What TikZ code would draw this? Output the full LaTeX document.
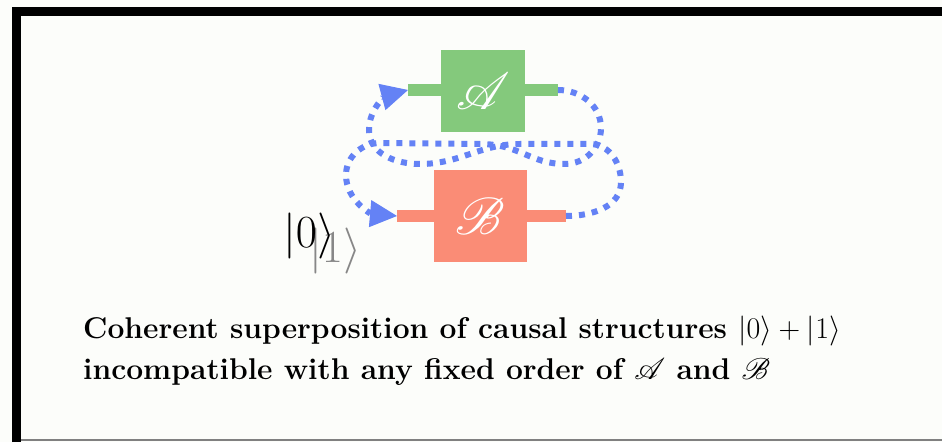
\RequirePackage{fix-cm}
\documentclass[tikz,border=0pt]{standalone}
\usepackage{amsmath}
\usepackage{amssymb}
\usepackage{mathrsfs}
\usepackage{tikz}
\usetikzlibrary{arrows.meta,positioning}
% scalable script letters
\DeclareFontFamily{U}{rsfs}{\skewchar\font127 }
\DeclareFontShape{U}{rsfs}{m}{n}{<-6> rsfs5 <6-8> rsfs7 <8-> rsfs10}{}
\definecolor{qsgreen}{RGB}{132,201,124}
\definecolor{qsred}{RGB}{250,140,118}
\definecolor{qsblue}{RGB}{100,130,245}
\definecolor{qsgray}{RGB}{135,135,135}
\definecolor{qspaper}{RGB}{252,253,250}
\tikzset{
  qsbox/.style={inner sep=0pt, text=white, font=\fontsize{52}{52}\selectfont},
  qsboxgreen/.style={qsbox, fill=qsgreen, minimum width=84pt, minimum height=82pt},
  qsboxred/.style={qsbox, fill=qsred, minimum width=93pt, minimum height=92pt},
  qswire/.style={line width=12pt},
  qspath/.style={line width=6pt, draw=qsblue, dash pattern=on 6pt off 7pt, -{Triangle[length=27pt,width=27pt,line width=1pt,fill=qsblue]}},
  qsket/.style={inner sep=0pt, font=\fontsize{46}{46}\selectfont},
  qscaption/.style={inner sep=0pt, anchor=base west, font=\fontsize{30}{41}\bfseries}
}

\begin{document}
\begin{tikzpicture}[x=1pt, y=1pt]
  \useasboundingbox (0,0) rectangle (942,442);
  \fill[qspaper] (0,0) rectangle (942,442);
  % slide frame
  \draw[line width=9pt, line join=miter] (16.5,0) -- (16.5,430.5) -- (942,430.5);
  \draw[gray, line width=1.5pt] (21,2) -- (942,2);

  % boxes and wires
  \node[qsboxgreen] (A) at (483,351) {$\mathscr{A}$};
  \node[qsboxred] (B) at (480.5,226) {$\mathscr{B}$};
  \coordinate (ain) at (408,352);
  \coordinate (aout) at (558,352);
  \coordinate (bin) at (397,226);
  \coordinate (bout) at (566,226);
  \draw[qswire, qsgreen] (ain) -- (A.west |- ain);
  \draw[qswire, qsgreen] (A.east |- aout) -- (aout);
  \draw[qswire, qsred] (bin) -- (B.west |- bin);
  \draw[qswire, qsred] (B.east |- bout) -- (bout);

  % A then B
  \draw[qspath] (aout) to[out=0,in=90] (601,314) to[out=-90,in=0] (565,278)
    .. controls (530,278) and (520,298) .. (480,298) -- (380,299)
    to[out=180,in=90] (346,267) to[out=-90,in=175] (bin);
  % B then A
  \draw[qspath] (bout) to[out=0,in=-90] (621,260) to[out=90,in=0] (590,298) -- (520,298)
    .. controls (480,298) and (460,278) .. (420,278)
    to[out=180,in=-90] (369,312) to[out=90,in=195] (ain);

  \node[qsket, text=qsgray, anchor=base west] (ket1) at (309,179) {$|1\rangle$};
  \node[qsket, anchor=base west] (ket0) at (283,194) {$|0\rangle$};

  \node[qscaption] (line1) at (83,104) {Coherent superposition of causal structures $|0\rangle + |1\rangle$};
  \node[qscaption] (line2) at (83,63) {incompatible with any fixed order of $\mathscr{A}$ and $\mathscr{B}$};
\end{tikzpicture}
\end{document}
